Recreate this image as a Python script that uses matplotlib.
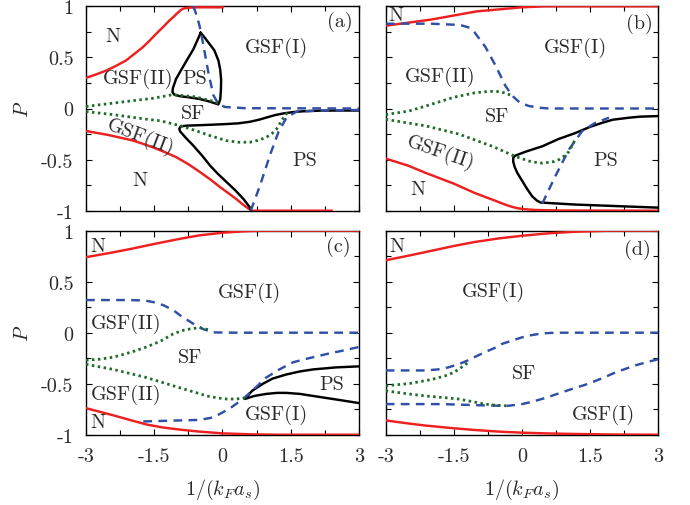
import matplotlib
matplotlib.use("Agg")
import matplotlib.pyplot as plt

plt.rcParams['font.family'] = 'serif'
plt.rcParams['font.serif'] = ['cmr10', 'DejaVu Serif']
plt.rcParams['mathtext.fontset'] = 'cm'
plt.rcParams['axes.unicode_minus'] = False

RED = '#ee1f1f'
BLUE = '#3050a8'
GREEN = '#1f6b2a'
TXT = '#2a2a2a'
FS = 14.5

# ---------------- data ----------------
xticks = [-3, -1.5, 0, 1.5, 3]
xticklabels = ['-3', '-1.5', '0', '1.5', '3']
yticks = [-1, -0.5, 0, 0.5, 1]
yticklabels = ['-1', '-0.5', '0', '0.5', '1']

# panel (a)
a_red_up_x = [-3, -2.8, -2.56, -2.35, -2.12, -1.95, -1.75, -1.6, -1.46, -1.3, -1.17, -1.08,
              -1.0, -0.92, -0.86, -0.78, -0.6, 0.0]
a_red_up_y = [0.30, 0.33, 0.37, 0.415, 0.47, 0.53, 0.60, 0.665, 0.73, 0.80, 0.86, 0.895,
              0.93, 0.962, 0.978, 0.985, 0.99, 0.99]
a_red_lo_x = [-3, -2.75, -2.5, -2.25, -2.0, -1.75, -1.5, -1.25, -1.0, -0.75, -0.5, -0.25,
              -0.05, 0.15, 0.3, 0.45, 0.57, 0.65, 2.4]
a_red_lo_y = [-0.22, -0.24, -0.26, -0.285, -0.31, -0.345, -0.385, -0.43, -0.48, -0.545, -0.62,
              -0.70, -0.77, -0.835, -0.885, -0.94, -0.98, -1.0, -1.0]
a_loop_x = [-0.48, -0.42, -0.3, -0.18, -0.09, -0.05, -0.03, -0.035, -0.05, -0.09, -0.3, -0.5,
            -0.75, -0.93, -1.06, -1.1, -1.09, -1.02, -0.93, -0.8, -0.64, -0.48]
a_loop_y = [0.74, 0.71, 0.64, 0.57, 0.47, 0.38, 0.28, 0.18, 0.09, 0.04, 0.07, 0.093,
            0.11, 0.12, 0.135, 0.16, 0.2, 0.29, 0.36, 0.46, 0.58, 0.74]
a_blk_x = [3.0, 2.5, 2.14, 1.78, 1.55, 1.34, 1.15, 0.97, 0.8, 0.6, 0.35, 0.09, -0.3, -0.79, -0.92,
           -0.95, -0.93, -0.8, -0.64, -0.45, -0.27, -0.1, 0.09, 0.28, 0.46, 0.6, 0.63]
a_blk_y = [-0.02, -0.02, -0.021, -0.027, -0.035, -0.048, -0.065, -0.088, -0.11, -0.13, -0.145,
           -0.152, -0.16, -0.168, -0.175, -0.2, -0.225, -0.29, -0.364, -0.46, -0.56, -0.64,
           -0.72, -0.80, -0.885, -0.967, -1.0]
a_blue1_x = [-0.64, -0.56, -0.5, -0.42, -0.31, -0.2, -0.1, 0.05, 0.5, 3.0]
a_blue1_y = [1.0, 0.9, 0.8, 0.62, 0.35, 0.13, 0.05, 0.015, 0.003, 0.0]
a_blue2_x = [0.62, 0.82, 1.04, 1.23, 1.41, 1.63, 2.14, 3.0]
a_blue2_y = [-1.0, -0.76, -0.46, -0.23, -0.086, -0.03, -0.02, -0.015]
a_grn1_x = [-3, -2.27, -1.53, -1.1, -0.6, -0.2, -0.08]
a_grn1_y = [0.02, 0.06, 0.10, 0.135, 0.115, 0.07, 0.05]
a_grn2_x = [-3, -2.4, -1.67, -1.37, -0.93, -0.6, -0.27, 0.09, 0.35, 0.6, 0.8, 0.97, 1.1,
            1.19, 1.3, 1.37, 1.45]
a_grn2_y = [-0.03, -0.06, -0.105, -0.12, -0.168, -0.215, -0.266, -0.315, -0.33, -0.33, -0.31,
            -0.28, -0.24, -0.2, -0.12, -0.07, -0.03]

# panel (b)
b_red_up_x = [-3, -2.5, -2.0, -1.5, -1.0, -0.5, 0.0, 0.5, 1.0, 3.0]
b_red_up_y = [0.81, 0.84, 0.87, 0.91, 0.95, 0.97, 0.99, 1.0, 1.0, 1.0]
b_red_lo_x = [-3, -2.5, -2.12, -1.5, -1.02, -0.6, -0.4, -0.25, -0.1, 0.05, 0.3, 0.82, 3.0]
b_red_lo_y = [-0.49, -0.56, -0.63, -0.735, -0.83, -0.9, -0.935, -0.958, -0.975, -0.985, -0.993,
              -0.998, -1.0]
b_blue1_x = [-3, -2.5, -2.0, -1.5, -1.3, -1.15, -1.05, -0.95, -0.8, -0.58, -0.36, -0.2, -0.05,
             0.15, 0.4, 0.6, 3.0]
b_blue1_y = [0.83, 0.83, 0.83, 0.82, 0.81, 0.79, 0.75, 0.69, 0.60, 0.42, 0.22, 0.12, 0.06,
             0.025, 0.007, 0.0, 0.0]
b_blue2_x = [0.45, 0.74, 1.04, 1.33, 1.62, 1.92]
b_blue2_y = [-0.93, -0.66, -0.40, -0.22, -0.14, -0.09]
b_grn1_x = [-3, -2.49, -2.0, -1.5, -1.02, -0.7, -0.5, -0.35, -0.2]
b_grn1_y = [-0.06, -0.025, 0.04, 0.11, 0.155, 0.168, 0.165, 0.15, 0.12]
b_grn2_x = [-3, -2.12, -1.39, -0.65, -0.14, 0.2, 0.45, 0.7, 0.82, 0.95, 1.04, 1.18]
b_grn2_y = [-0.106, -0.17, -0.25, -0.37, -0.47, -0.52, -0.535, -0.52, -0.50, -0.46, -0.42, -0.30]
b_blk_x = [3.0, 2.6, 2.36, 2.0, 1.77, 1.5, 1.18, 0.8, 0.45, 0.1, -0.14, -0.19, -0.19, -0.16,
           -0.1, 0.01, 0.12, 0.23, 0.33, 0.41, 1.18, 3.0]
b_blk_y = [-0.074, -0.08, -0.09, -0.11, -0.14, -0.18, -0.24, -0.30, -0.37, -0.42, -0.46, -0.48,
           -0.52, -0.57, -0.63, -0.71, -0.79, -0.86, -0.9, -0.92, -0.94, -0.97]

# panel (c)
c_red_up_x = [-3, -2.5, -2.03, -1.5, -0.94, -0.5, 0.0, 0.5, 0.89, 3.0]
c_red_up_y = [0.74, 0.78, 0.82, 0.87, 0.92, 0.955, 0.98, 0.995, 1.0, 1.0]
c_red_lo_x = [-3, -2.7, -2.4, -2.0, -1.67, -1.3, -0.94, -0.5, 0.0, 0.6, 1.26, 3.0]
c_red_lo_y = [-0.74, -0.775, -0.81, -0.86, -0.90, -0.93, -0.95, -0.97, -0.987, -0.996, -1.0, -1.0]
c_blue1_x = [-3, -2.03, -1.7, -1.52, -1.3, -1.08, -0.9, -0.72, -0.58, -0.43, -0.21, 0.3, 3.0]
c_blue1_y = [0.32, 0.32, 0.315, 0.30, 0.27, 0.22, 0.16, 0.11, 0.07, 0.036, 0.003, 0.0, 0.0]
c_blue2_x = [-1.74, -0.94, -0.5, -0.2, 0.01, 0.2, 0.45, 0.7, 0.96, 1.25, 1.55, 1.9, 2.28, 2.65, 3.0]
c_blue2_y = [-0.87, -0.86, -0.855, -0.83, -0.78, -0.73, -0.65, -0.55, -0.44, -0.36, -0.29,
             -0.25, -0.21, -0.175, -0.14]
c_grn1_x = [-3, -2.7, -2.4, -2.0, -1.67, -1.35, -1.08, -0.85, -0.72, -0.5, -0.28]
c_grn1_y = [-0.27, -0.26, -0.24, -0.19, -0.14, -0.08, -0.01, 0.025, 0.036, 0.05, 0.026]
c_grn2_x = [-3, -2.4, -1.67, -0.94, -0.6, -0.35, -0.1, 0.09, 0.3, 0.49]
c_grn2_y = [-0.31, -0.36, -0.44, -0.54, -0.585, -0.62, -0.64, -0.65, -0.65, -0.64]
c_blk_x = [3.0, 2.5, 1.99, 1.7, 1.4, 1.1, 0.89, 0.65, 0.49, 0.7, 0.96, 1.2, 1.4, 1.7, 1.99, 2.5, 3.0]
c_blk_y = [-0.33, -0.34, -0.36, -0.38, -0.41, -0.45, -0.50, -0.57, -0.65, -0.62, -0.60,
           -0.59, -0.59, -0.60, -0.62, -0.655, -0.69]

# panel (d)
d_red_up_x = [-3, -2.5, -2.13, -1.5, -1.03, -0.5, 0.0, 0.6, 1.18, 1.91, 3.0]
d_red_up_y = [0.71, 0.755, 0.79, 0.85, 0.89, 0.925, 0.95, 0.975, 0.99, 1.0, 1.0]
d_red_lo_x = [-3, -2.5, -2.13, -1.5, -1.03, -0.5, 0.0, 0.6, 1.18, 2.0, 3.0]
d_red_lo_y = [-0.86, -0.89, -0.91, -0.937, -0.954, -0.97, -0.98, -0.988, -0.993, -0.998, -1.0]
d_blue1_x = [-3, -2.13, -1.85, -1.62, -1.4, -1.18, -1.0, -0.81, -0.6, -0.44, -0.2, 0.0, 0.2,
             0.44, 0.65, 0.88, 3.0]
d_blue1_y = [-0.37, -0.37, -0.36, -0.34, -0.31, -0.27, -0.23, -0.19, -0.15, -0.11, -0.075,
             -0.046, -0.025, -0.007, -0.002, 0.0, 0.0]
d_blue2_x = [-3, -1.76, -0.88, -0.5, -0.29, 0.0, 0.2, 0.44, 0.65, 0.88, 1.15, 1.47, 1.75,
             2.06, 2.5, 3.0]
d_blue2_y = [-0.70, -0.70, -0.712, -0.716, -0.716, -0.70, -0.68, -0.65, -0.62, -0.585, -0.545,
             -0.50, -0.45, -0.39, -0.32, -0.26]
d_grn1_x = [-3, -2.5, -2.0, -1.7, -1.5, -1.3, -1.15]
d_grn1_y = [-0.52, -0.50, -0.46, -0.425, -0.39, -0.33, -0.28]
d_grn2_x = [-3, -2.5, -2.13, -1.75, -1.4, -1.1, -0.81, -0.55, -0.35]
d_grn2_y = [-0.57, -0.60, -0.62, -0.635, -0.65, -0.675, -0.70, -0.712, -0.716]

# labels: (text, x, y, rotation)
a_labels = [('N', -2.4, 0.71, 0), ('GSF(II)', -1.85, 0.30, 0),
            ('PS', -0.61, 0.30, 0), ('GSF(I)', 1.18, 0.6, 0), ('SF', -0.64, -0.04, 0),
            ('GSF(II)', -1.81, -0.27, -21), ('N', -1.81, -0.70, 0), ('PS', 1.8, -0.5, 0),
            ('(a)', 2.57, 0.86, 0)]
b_labels = [('N', -2.78, 0.91, 0), ('GSF(I)', 1.18, 0.6, 0), ('GSF(II)', -1.79, 0.32, 0),
            ('SF', -0.54, -0.07, 0), ('GSF(II)', -1.79, -0.43, -19), ('N', -2.3, -0.79, 0),
            ('PS', 1.84, -0.5, 0), ('(b)', 2.58, 0.84, 0)]
c_labels = [('N', -2.73, 0.85, 0), ('(c)', 2.54, 0.85, 0), ('GSF(I)', 0.6, 0.40, 0),
            ('GSF(II)', -2.11, 0.10, 0), ('SF', -0.72, -0.24, 0), ('GSF(II)', -2.11, -0.60, 0),
            ('N', -2.73, -0.88, 0), ('GSF(I)', 1.18, -0.80, 0), ('PS', 2.39, -0.50, 0)]
d_labels = [('N', -2.76, 0.85, 0), ('(d)', 2.54, 0.82, 0), ('GSF(I)', -0.63, 0.41, 0),
            ('SF', 0.04, -0.40, 0), ('GSF(I)', 1.8, -0.80, 0)]

# ---------------- drawing ----------------
fig = plt.figure(figsize=(6.9, 5.06), dpi=100)

W, H = 690.0, 506.0
def axes_at(l, t, r, b):
    return fig.add_axes([l / W, 1 - b / H, (r - l) / W, (b - t) / H])

axa = axes_at(86, 7.3, 359, 211.7)
axb = axes_at(385.7, 7.3, 658, 211.7)
axc = axes_at(86, 231.7, 359, 435.7)
axd = axes_at(385.7, 231.7, 658, 435.7)

LW = 1.75
def red(ax, x, y):
    ax.plot(x, y, color=RED, lw=LW, solid_joinstyle='round', zorder=3)
def blk(ax, x, y):
    ax.plot(x, y, color='black', lw=LW, solid_joinstyle='round', zorder=4)
def blue(ax, x, y):
    ax.plot(x, y, color=BLUE, lw=LW, linestyle=(0, (3.6, 2.6)), zorder=5)
def grn(ax, x, y):
    ax.plot(x, y, color=GREEN, lw=2.0, linestyle=(0, (0.9, 1.25)), zorder=5)

red(axa, a_red_up_x, a_red_up_y); red(axa, a_red_lo_x, a_red_lo_y)
blk(axa, a_loop_x, a_loop_y); blk(axa, a_blk_x, a_blk_y)
blue(axa, a_blue1_x, a_blue1_y); blue(axa, a_blue2_x, a_blue2_y)
grn(axa, a_grn1_x, a_grn1_y); grn(axa, a_grn2_x, a_grn2_y)

red(axb, b_red_up_x, b_red_up_y); red(axb, b_red_lo_x, b_red_lo_y)
blk(axb, b_blk_x, b_blk_y)
blue(axb, b_blue1_x, b_blue1_y); blue(axb, b_blue2_x, b_blue2_y)
grn(axb, b_grn1_x, b_grn1_y); grn(axb, b_grn2_x, b_grn2_y)

red(axc, c_red_up_x, c_red_up_y); red(axc, c_red_lo_x, c_red_lo_y)
blk(axc, c_blk_x, c_blk_y)
blue(axc, c_blue1_x, c_blue1_y); blue(axc, c_blue2_x, c_blue2_y)
grn(axc, c_grn1_x, c_grn1_y); grn(axc, c_grn2_x, c_grn2_y)

red(axd, d_red_up_x, d_red_up_y); red(axd, d_red_lo_x, d_red_lo_y)
blue(axd, d_blue1_x, d_blue1_y); blue(axd, d_blue2_x, d_blue2_y)
grn(axd, d_grn1_x, d_grn1_y); grn(axd, d_grn2_x, d_grn2_y)

for ax, labs in [(axa, a_labels), (axb, b_labels), (axc, c_labels), (axd, d_labels)]:
    for t, x, y, r in labs:
        ax.text(x, y, t, fontsize=FS, color=TXT, ha='center', va='center',
                rotation=r, rotation_mode='anchor', zorder=6)

for ax in [axa, axb, axc, axd]:
    ax.set_xlim(-3, 3)
    ax.set_ylim(-1, 1)
    ax.set_xticks(xticks)
    ax.set_yticks(yticks)
    ax.set_xticks([-2.25, -0.75, 0.75, 2.25], minor=True)
    ax.set_yticks([-0.75, -0.25, 0.25, 0.75], minor=True)
    ax.tick_params(which='both', direction='in', top=True, right=True,
                   length=4.5, width=0.8, labelsize=FS, colors='black',
                   labelcolor=TXT, pad=9)
    ax.tick_params(which='minor', length=3.5)
    for s in ax.spines.values():
        s.set_linewidth(1.0)

for ax in [axa, axc]:
    ax.set_yticklabels(yticklabels)
for ax in [axb, axd]:
    ax.set_yticklabels([])
for ax in [axc, axd]:
    ax.set_xticklabels(xticklabels)
for ax in [axa, axb]:
    ax.set_xticklabels([])

fig.text(23 / W, 1 - 109 / H, '$P$', fontsize=FS, color=TXT, rotation=90,
         ha='center', va='center')
fig.text(23 / W, 1 - 333 / H, '$P$', fontsize=FS, color=TXT, rotation=90,
         ha='center', va='center')
fig.text(222.5 / W, 1 - 490 / H, '$1/(k_Fa_s)$', fontsize=FS, color=TXT,
         ha='center', va='center')
fig.text(522 / W, 1 - 490 / H, '$1/(k_Fa_s)$', fontsize=FS, color=TXT,
         ha='center', va='center')

fig.savefig('out.png', dpi=100)
